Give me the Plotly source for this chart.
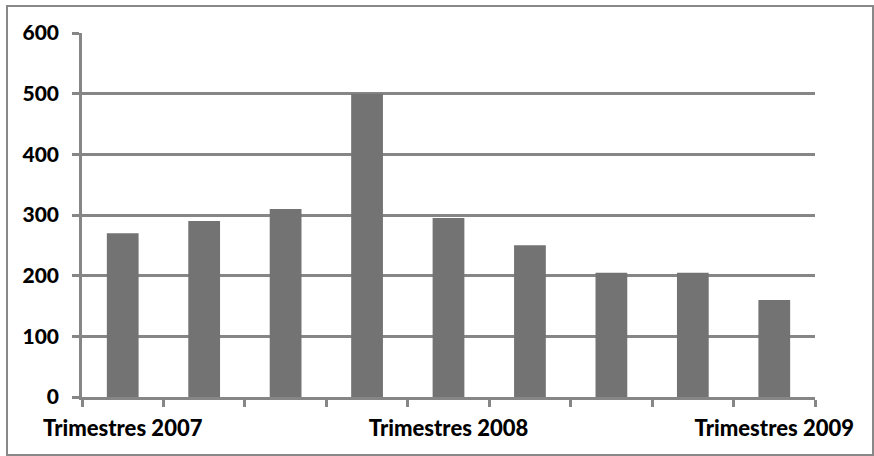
import plotly.graph_objects as go

# Quarterly values, 2007 through 2009
quarters = list(range(1, 10))
values = [270, 290, 310, 500, 295, 250, 205, 205, 160]
tick_labels = ["Trimestres 2007", "", "", "", "Trimestres 2008", "", "", "", "Trimestres 2009"]
y_ticks = [0, 100, 200, 300, 400, 500, 600]

GRID = "#868686"
BAR = "#737373"

fig = go.Figure(
    go.Bar(
        x=quarters,
        y=values,
        marker=dict(color=BAR, line=dict(width=0)),
        hoverinfo="skip",
    )
)

W, H = 874, 456
ml, mr, mt, mb = 82, 59, 33, 59
pw, ph = W - ml - mr, H - mt - mb

fig.update_layout(
    width=W,
    height=H,
    margin=dict(l=ml, r=mr, t=mt, b=mb, pad=0),
    paper_bgcolor="white",
    plot_bgcolor="white",
    bargap=0.61,
    showlegend=False,
    font=dict(family="Lato", size=20, color="#000000"),
    xaxis=dict(
        range=[0.5, 9.5],
        tickmode="array",
        tickvals=quarters,
        ticktext=tick_labels,
        ticks="",
        showgrid=False,
        showline=True,
        linecolor=GRID,
        linewidth=2.5,
        zeroline=False,
        tickfont=dict(family="Lato", size=22, color="#000000", weight=900),
        ticklabelstandoff=10,
        minor=dict(
            tickmode="array",
            tickvals=[q - 0.5 for q in quarters] + [9.5],
            ticks="outside",
            ticklen=7,
            tickwidth=2.5,
            tickcolor=GRID,
            showgrid=False,
        ),
    ),
    yaxis=dict(
        range=[0, 600],
        tickmode="array",
        tickvals=y_ticks,
        ticks="outside",
        ticklen=7,
        tickwidth=2.5,
        tickcolor=GRID,
        showgrid=True,
        gridcolor=GRID,
        gridwidth=2.5,
        showline=True,
        linecolor=GRID,
        linewidth=2.5,
        zeroline=False,
        tickfont=dict(family="Lato", size=21, color="#000000", weight=900),
        ticklabelstandoff=9,
    ),
)

# Outer frame around the whole chart
fig.add_shape(
    type="rect",
    xref="paper",
    yref="paper",
    x0=(7 - ml) / pw,
    x1=(873 - ml) / pw,
    y0=-(455 - (H - mb)) / ph,
    y1=1 + (mt - 6) / ph,
    line=dict(color="#888888", width=2),
    fillcolor="rgba(0,0,0,0)",
    layer="below",
)

fig.write_html("out.html")
